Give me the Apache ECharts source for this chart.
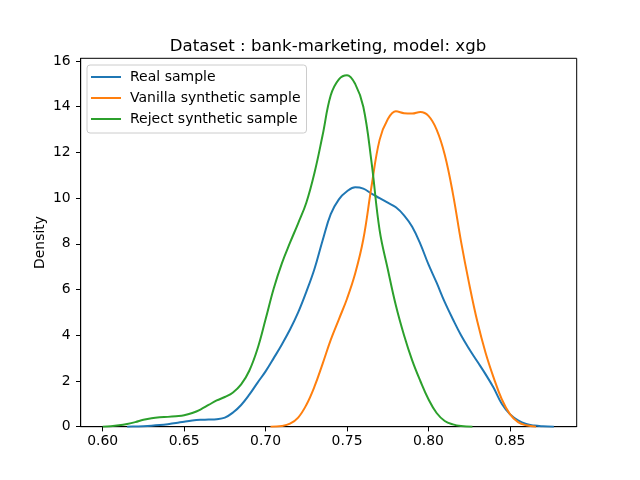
<!DOCTYPE html>
<html>
<head>
<meta charset="UTF-8">
<title>KDE - bank-marketing xgb</title>
<script src="https://cdn.jsdelivr.net/npm/echarts@6/dist/echarts.min.js"></script>
<style>
    html, body { margin: 0; padding: 0; background: #fff; }
    #main { width: 640px; height: 480px; }
</style>
</head>
<body>
<div id="main"></div>
<script type="text/javascript">
    // 数据（从图上读出的密度曲线）
    var realX = [0.615,0.620,0.625,0.630,0.635,0.640,0.645,0.650,0.655,0.660,0.665,0.670,0.675,0.680,0.685,0.690,0.695,0.700,0.705,0.710,0.715,0.720,0.725,0.730,0.735,0.740,0.745,0.750,0.755,0.760,0.765,0.770,0.775,0.780,0.785,0.790,0.795,0.800,0.805,0.810,0.815,0.820,0.825,0.830,0.835,0.840,0.845,0.850,0.855,0.860,0.865,0.870,0.877];
    var realY = [0.00,0.01,0.02,0.04,0.07,0.11,0.16,0.22,0.27,0.30,0.31,0.33,0.40,0.62,0.95,1.40,1.92,2.42,3.00,3.60,4.25,5.00,5.90,6.90,8.15,9.30,9.95,10.30,10.48,10.42,10.20,10.00,9.80,9.60,9.25,8.75,8.00,7.10,6.30,5.45,4.70,4.00,3.40,2.85,2.30,1.70,1.00,0.55,0.28,0.12,0.05,0.02,0.00];

    var vanillaX = [0.703,0.710,0.715,0.720,0.725,0.730,0.735,0.740,0.745,0.750,0.755,0.760,0.765,0.770,0.775,0.780,0.785,0.790,0.795,0.800,0.805,0.810,0.815,0.820,0.825,0.830,0.835,0.840,0.845,0.850,0.855,0.860,0.866];
    var vanillaY = [0.00,0.03,0.13,0.40,0.95,1.75,2.75,3.80,4.70,5.60,6.70,8.20,10.50,12.55,13.45,13.80,13.72,13.70,13.77,13.60,13.00,11.90,10.20,8.10,6.25,4.60,3.25,2.15,1.20,0.55,0.20,0.06,0.00];

    var rejectX = [0.600,0.605,0.610,0.615,0.620,0.625,0.630,0.635,0.640,0.645,0.650,0.655,0.660,0.665,0.670,0.675,0.680,0.685,0.690,0.695,0.700,0.705,0.710,0.715,0.720,0.725,0.730,0.735,0.740,0.745,0.750,0.755,0.760,0.765,0.770,0.775,0.780,0.785,0.790,0.795,0.800,0.805,0.810,0.815,0.820,0.827];
    var rejectY = [0.00,0.02,0.06,0.12,0.20,0.30,0.37,0.41,0.43,0.46,0.50,0.60,0.75,0.95,1.15,1.30,1.50,1.85,2.45,3.40,4.70,6.05,7.15,8.05,8.90,9.80,11.10,12.75,14.50,15.20,15.38,15.00,14.00,11.60,8.60,6.90,5.30,4.00,2.90,2.00,1.20,0.60,0.25,0.10,0.03,0.00];

    var xTicks = [0.60, 0.65, 0.70, 0.75, 0.80, 0.85];
    var yTicks = [0, 2, 4, 6, 8, 10, 12, 14, 16];

    var seriesNames = ['Real sample', 'Vanilla synthetic sample', 'Reject synthetic sample'];
    var colors = ['#1f77b4', '#ff7f0e', '#2ca02c'];

    function zip(xs, ys) {
        return xs.map(function (x, i) { return [x, ys[i]]; });
    }

    var font = 'DejaVu Sans';
    var myChart = echarts.init(document.getElementById('main'), null, { renderer: 'canvas' });

    function lineSeries(name, data, color) {
        return {
            name: name,
            type: 'line',
            data: data,
            showSymbol: false,
            smooth: 0.4,
            lineStyle: { color: color, width: 2 },
            itemStyle: { color: color },
            animation: false
        };
    }

    var option = {
        backgroundColor: '#fff',
        animation: false,
        title: {
            text: 'Dataset : bank-marketing, model: xgb',
            left: 323,
            textAlign: 'center',
            top: 33,
            textStyle: { fontFamily: font, fontSize: 16.6, fontWeight: 'normal', color: '#000' }
        },
        legend: {
            data: seriesNames,
            orient: 'vertical',
            left: 87,
            top: 65,
            icon: 'rect',
            itemWidth: 30,
            itemHeight: 2,
            itemGap: 7,
            padding: [5, 6, 7, 4],
            borderColor: '#cccccc',
            borderWidth: 1,
            borderRadius: 3,
            backgroundColor: 'rgba(255,255,255,0.8)',
            textStyle: { fontFamily: font, fontSize: 14, color: '#000', lineHeight: 14, padding: [0, 0, 0, 4] }
        },
        grid: {
            left: 80.7,
            right: 63.3,
            top: 58.3,
            bottom: 53.3,
            show: true,
            borderColor: '#000',
            borderWidth: 1,
            backgroundColor: 'transparent'
        },
        xAxis: {
            type: 'value',
            min: 0.5865,
            max: 0.891,
            axisLine: { show: true, lineStyle: { color: '#000', width: 1 } },
            axisTick: { show: true, length: 4.7, customValues: xTicks, lineStyle: { color: '#000' } },
            axisLabel: {
                customValues: xTicks,
                margin: 8,
                fontFamily: font,
                fontSize: 13.9,
                color: '#000',
                formatter: function (v) { return v.toFixed(2); }
            },
            splitLine: { show: false }
        },
        yAxis: {
            type: 'value',
            min: 0,
            max: 16.12,
            name: 'Density',
            nameLocation: 'middle',
            nameRotate: 90,
            nameGap: 33,
            nameMoveOverlap: false,
            nameTextStyle: { fontFamily: font, fontSize: 13.9, color: '#000' },
            axisLine: { show: true, lineStyle: { color: '#000', width: 1 } },
            axisTick: { show: true, length: 4.7, customValues: yTicks, lineStyle: { color: '#000' } },
            axisLabel: {
                customValues: yTicks,
                margin: 10,
                fontFamily: font,
                fontSize: 13.9,
                color: '#000'
            },
            splitLine: { show: false }
        },
        series: [
            lineSeries(seriesNames[0], zip(realX, realY), colors[0]),
            lineSeries(seriesNames[1], zip(vanillaX, vanillaY), colors[1]),
            lineSeries(seriesNames[2], zip(rejectX, rejectY), colors[2])
        ]
    };
    myChart.setOption(option);
</script>
</body>
</html>
